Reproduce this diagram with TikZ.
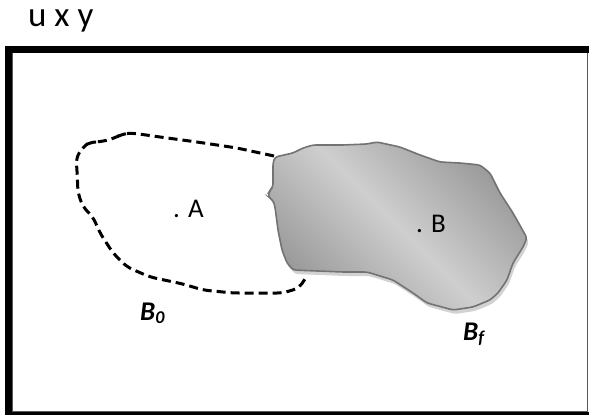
\documentclass[tikz,border=0pt]{standalone}
\usepackage{fontspec}
\setmainfont{Carlito}
\usetikzlibrary{positioning}
\newcommand{\finalbody}{(275,157) -- (293,153) -- (303,148) -- (313,145) -- (343,145) -- (367,144) -- (377,142) -- (400,147) -- (420,155) -- (440,162) -- (460,163) -- (480,165) -- (490,173) -- (500,193) -- (513,213) -- (527,238) -- (523,247) -- (513,263) -- (507,280) -- (498,293) -- (490,300) -- (473,307) -- (453,310) -- (427,303) -- (413,293) -- (393,280) -- (367,272) -- (343,272) -- (293,270) -- (287,263) -- (282,250) -- (278,230) -- (275,207) -- (273,200) -- (268,197) -- (270,190) -- (273,187) -- (273,163) -- cycle}
\begin{document}
\begin{tikzpicture}[x=1pt,y=-1pt] % one unit is one pixel of the picture, y grows downwards
\tikzset{every node/.style={font=\fontsize{27}{30}\selectfont, inner sep=0pt}} % all labels in one size
\tikzset{bodylabel/.style={font=\fontsize{27}{30}\selectfont\bfseries\itshape, anchor=base west}} % names of the bodies
\useasboundingbox (0,0) rectangle (589,415);
% frame
\draw[gray!70!black, line width=1.2] (12.5,52.5) rectangle (587.5,411.5);
\draw[line width=7] (8.5,415) -- (8.5,49) -- (589,49);
\draw[line width=3.5] (5,413.3) -- (589,413.3);
\node[anchor=base west, font=\fontsize{35}{38}\selectfont] (title) at (28,26) {u x y};
% initial position, dashed
\draw[line width=3, dash pattern=on 9pt off 5pt, line cap=butt, rounded corners=6pt] (274,156) -- (237,148) -- (197,142) -- (160,137) -- (132,133) -- (122,134) -- (115,138) -- (100,142) -- (90,142) -- (83,147) -- (76,158) -- (77,170) -- (78,193) -- (83,207) -- (93,217) -- (100,233) -- (113,253) -- (127,267) -- (150,277) -- (183,284) -- (203,290) -- (233,293) -- (283,293) -- (299,288) -- (305,279);
% final position, shaded
\fill[gray!35, rounded corners=3pt, shift={(2,4)}] \finalbody;
\shade[top color=gray!80, bottom color=gray!80, middle color=gray!38, shading angle=-45, rounded corners=3pt] \finalbody;
\draw[gray!90!black, line width=1.6, rounded corners=3pt] \finalbody;
\node[anchor=base west] (ptA) at (173,217) {. A};
\node[anchor=base west] (ptB) at (416,232) {. B};
\node[bodylabel] (bzero) at (140,320) {B\raisebox{-0.25ex}{\fontsize{18}{18}\selectfont 0}};
\node[bodylabel] (bfinal) at (463,340) {B\raisebox{-0.25ex}{\fontsize{18}{18}\selectfont f}};
\end{tikzpicture}
\end{document}
